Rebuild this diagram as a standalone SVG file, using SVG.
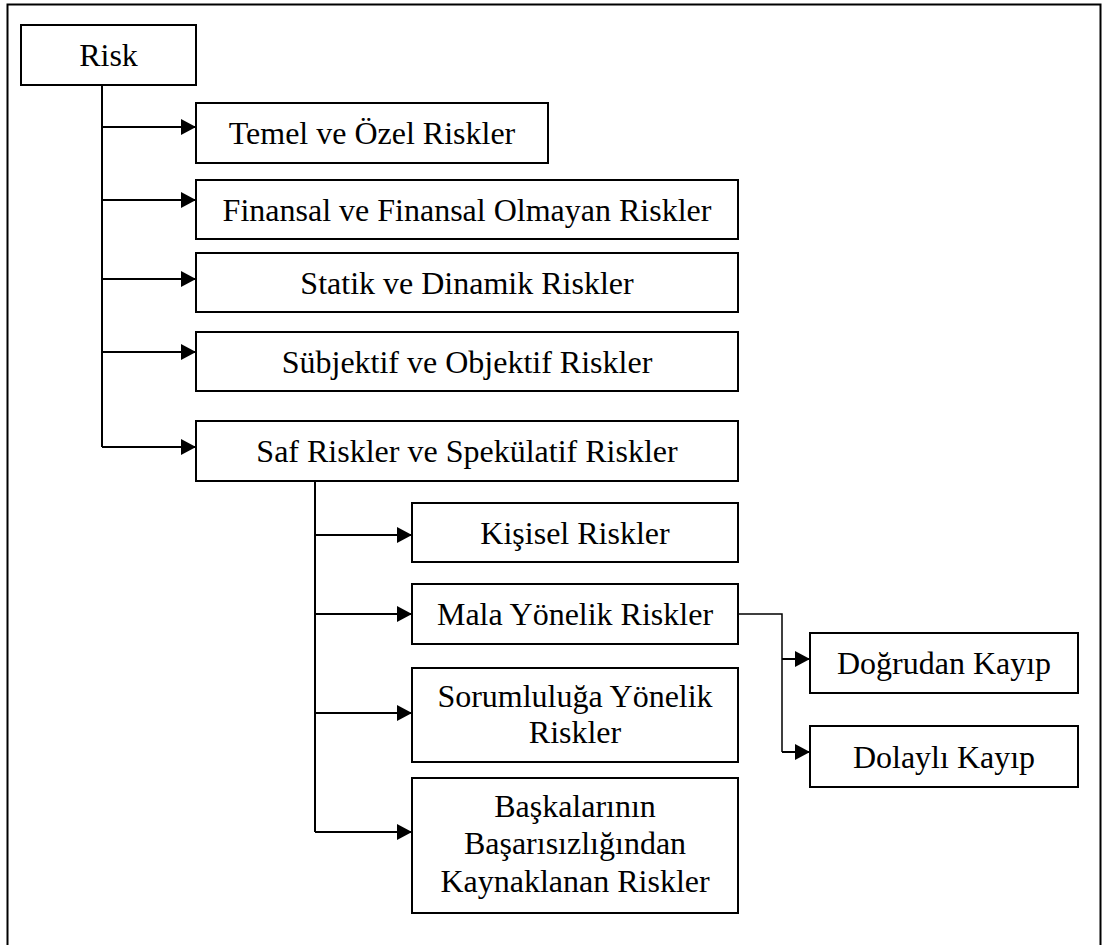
<svg xmlns="http://www.w3.org/2000/svg" width="1102" height="945" viewBox="0 0 1102 945">
<style>
.box{fill:#fff;stroke:#000;stroke-width:2}
.t{font-family:'Liberation Serif',Tinos,'Times New Roman','DejaVu Serif',serif;font-size:32px;fill:#000;text-anchor:middle}
.c{fill:none;stroke:#000;stroke-width:2}
.thin{fill:none;stroke:#000;stroke-width:1.5}
</style>
<defs>
<marker id="ah" markerUnits="userSpaceOnUse" markerWidth="15" markerHeight="16" refX="15" refY="8" orient="auto">
<path d="M0,0 L15,8 L0,16 z" fill="#000"/>
</marker>
</defs>
<rect width="1102" height="945" fill="#fff"/>
<path d="M7.5,945 V4.5 H1100.5 V945" fill="none" stroke="#000" stroke-width="2"/>
<g id="connectors">
<path class="c" d="M102,85 V447"/>
<path class="c" d="M102,127 H196" marker-end="url(#ah)"/>
<path class="c" d="M102,200 H196" marker-end="url(#ah)"/>
<path class="c" d="M102,279 H196" marker-end="url(#ah)"/>
<path class="c" d="M102,352 H196" marker-end="url(#ah)"/>
<path class="c" d="M102,447 H196" marker-end="url(#ah)"/>
<path class="c" d="M315,481 V832"/>
<path class="c" d="M315,535 H412" marker-end="url(#ah)"/>
<path class="c" d="M315,614 H412" marker-end="url(#ah)"/>
<path class="c" d="M315,713 H412" marker-end="url(#ah)"/>
<path class="c" d="M315,832 H412" marker-end="url(#ah)"/>
<path class="thin" d="M738,614 H782 V752"/>
<path class="c" d="M782,659 H810" marker-end="url(#ah)"/>
<path class="c" d="M782,752 H810" marker-end="url(#ah)"/>
</g>
<g id="risk"><rect class="box" x="21" y="25" width="175" height="60"/><text class="t" font-family="Liberation Serif, serif" x="108.5" y="66">Risk</text></g>
<g id="temel"><rect class="box" x="196" y="103" width="352" height="60"/><text class="t" x="372" y="144">Temel ve Özel Riskler</text></g>
<g id="finansal"><rect class="box" x="196" y="180" width="542" height="59"/><text class="t" x="467" y="220.5">Finansal ve Finansal Olmayan Riskler</text></g>
<g id="statik"><rect class="box" x="196" y="253" width="542" height="59"/><text class="t" x="467" y="293.5">Statik ve Dinamik Riskler</text></g>
<g id="subjektif"><rect class="box" x="196" y="332" width="542" height="59"/><text class="t" x="467" y="372.5">Sübjektif ve Objektif Riskler</text></g>
<g id="saf"><rect class="box" x="196" y="421" width="542" height="60"/><text class="t" x="467" y="462">Saf Riskler ve Spekülatif Riskler</text></g>
<g id="kisisel"><rect class="box" x="412" y="503" width="326" height="59"/><text class="t" x="575" y="543.5">Kişisel Riskler</text></g>
<g id="mala"><rect class="box" x="412" y="584" width="326" height="60"/><text class="t" x="575" y="625">Mala Yönelik Riskler</text></g>
<g id="sorumluluga"><rect class="box" x="412" y="668" width="326" height="94"/><text class="t" x="575" y="707">Sorumluluğa Yönelik</text><text class="t" x="575" y="743">Riskler</text></g>
<g id="baskalarinin"><rect class="box" x="412" y="778" width="326" height="135"/><text class="t" x="575" y="817">Başkalarının</text><text class="t" x="575" y="854">Başarısızlığından</text><text class="t" x="575" y="892">Kaynaklanan Riskler</text></g>
<g id="dogrudan"><rect class="box" x="810" y="633" width="268" height="60"/><text class="t" x="944" y="674">Doğrudan Kayıp</text></g>
<g id="dolayli"><rect class="box" x="810" y="726" width="268" height="61"/><text class="t" x="944" y="767.5">Dolaylı Kayıp</text></g>
</svg>
